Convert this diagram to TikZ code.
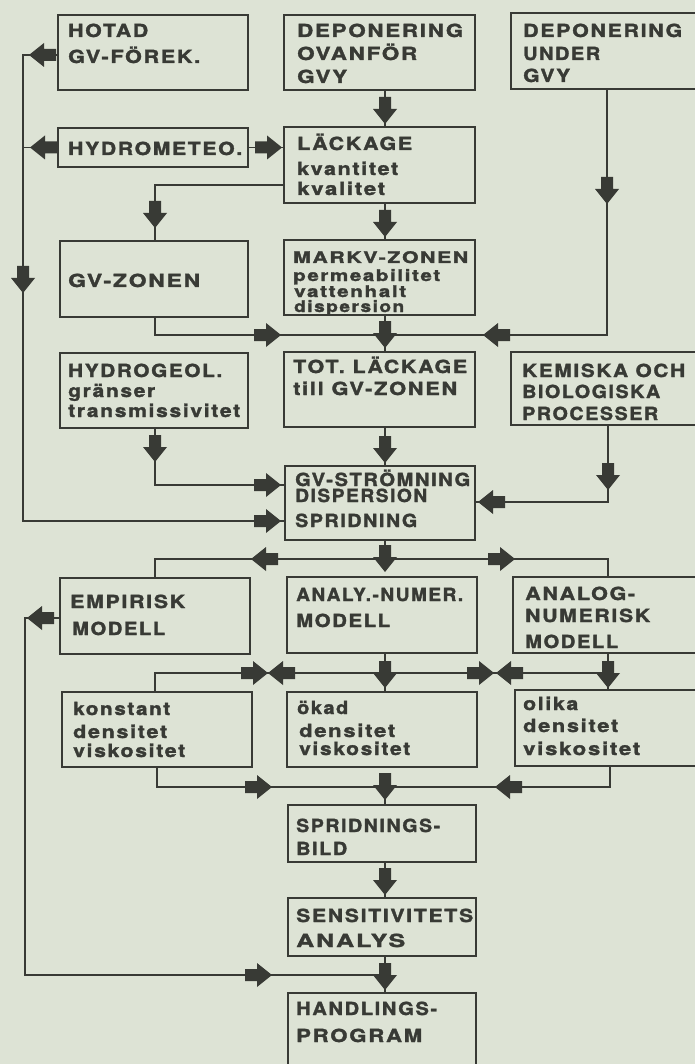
\documentclass[tikz,border=0pt]{standalone}
\usepackage{fontspec}
\setmainfont{TeX Gyre Heros}[LetterSpace=8, BoldFeatures={FakeBold=1.6}]
\usepackage{graphicx}
\definecolor{bg}{HTML}{DDE3D5}
\definecolor{ink}{HTML}{383A35}
\newcommand\bx[5]{\node[box, minimum width={#4pt-#2pt}, minimum height={#5pt-#3pt}] (#1) at ({(#2+#4)/2},{(#3+#5)/2}) {};}
\newcommand\tline[5]{\node[txt] (#1) at (#2,#3) {\resizebox{#4pt}{\height}{#5}};}
\newcommand\fa[4]{\pic[rotate=#4] (#1) at (#2,#3) {fatarrow};}
\begin{document}
\begin{tikzpicture}[x=1pt,y=-1pt,
  box/.style={draw=ink, line width=2.2pt, inner sep=0pt, rectangle},
  conn/.style={draw=ink, line width=1.7pt},
  txt/.style={anchor=base west, inner sep=0pt, text=ink, font=\fontsize{18pt}{20pt}\selectfont\bfseries},
  fatarrow/.pic={\fill[ink] (0pt,0pt) -- (-15pt,12pt) -- (-15pt,6pt) -- (-27pt,6pt) -- (-27pt,-6pt) -- (-15pt,-6pt) -- (-15pt,-12pt) -- cycle;}]
\fill[bg] (0,0) rectangle (695,1064);
\useasboundingbox (0,0) rectangle (695,1064);

% boxes
\bx{hotad}{58}{15}{248}{90}
\bx{depov}{284}{15}{475}{90}
\bx{depun}{511}{13}{705}{89}
\bx{hydro}{58}{128}{248}{167}
\bx{lack}{284}{127}{475}{203}
\bx{gvz}{60}{241}{248}{317}
\bx{markv}{284}{240}{475}{315}
\bx{hgeol}{60}{353}{248}{428}
\bx{totl}{284}{352}{475}{427}
\bx{kem}{511}{352}{705}{425}
\bx{gvs}{285}{466}{475}{540}
\bx{emp}{60}{578}{250}{654}
\bx{anum}{287}{577}{477}{653}
\bx{anlg}{513}{577}{705}{653}
\bx{kon}{62}{692}{252}{767}
\bx{okad}{287}{692}{477}{767}
\bx{olika}{515}{690}{705}{766}
\bx{sbild}{288}{805}{476}{862}
\bx{sens}{288}{898}{476}{956}
\bx{handl}{288}{993}{476}{1070}

% texts
\tline{t1a}{68}{37}{80}{HOTAD}
\tline{t1b}{68}{63}{132}{GV-FÖREK.}
\tline{t2a}{297}{37}{166}{DEPONERING}
\tline{t2b}{297}{60}{120}{OVANFÖR}
\tline{t2c}{297}{83}{50}{GVY}
\tline{t3a}{523}{37}{159}{DEPONERING}
\tline{t3b}{523}{60}{77}{UNDER}
\tline{t3c}{523}{82}{47}{GVY}
\tline{t4a}{68}{155}{174}{HYDROMETEO.}
\tline{t5a}{297}{150}{115}{LÄCKAGE}
\tline{t5b}{297}{175}{101}{kvantitet}
\tline{t5c}{297}{195}{88}{kvalitet}
\tline{t6a}{68}{287}{132}{GV-ZONEN}
\tline{t7a}{293}{263}{175}{\fontsize{16pt}{18pt}\selectfont MARKV-ZONEN}
\tline{t7b}{293}{281}{147}{\fontsize{16pt}{18pt}\selectfont permeabilitet}
\tline{t7c}{294}{297}{112}{\fontsize{16pt}{18pt}\selectfont vattenhalt}
\tline{t7d}{294}{312}{110}{\fontsize{16pt}{18pt}\selectfont dispersion}
\tline{t8a}{68}{377}{154}{HYDROGEOL.}
\tline{t8b}{68}{397}{87}{gränser}
\tline{t8c}{68}{417}{172}{transmissivitet}
\tline{t9a}{293}{373}{174}{TOT. LÄCKAGE}
\tline{t9b}{293}{395}{164}{till GV-ZONEN}
\tline{t10a}{522}{377}{163}{KEMISKA OCH}
\tline{t10b}{522}{398}{138}{BIOLOGISKA}
\tline{t10c}{522}{420}{136}{PROCESSER}
\tline{t11a}{295}{486}{175}{GV-STRÖMNING}
\tline{t11b}{295}{502}{132}{DISPERSION}
\tline{t11c}{295}{527}{122}{SPRIDNING}
\tline{t12a}{70}{608}{115}{EMPIRISK}
\tline{t12b}{72}{635}{93}{MODELL}
\tline{t13a}{296}{601}{167}{ANALY.-NUMER.}
\tline{t13b}{296}{627}{94}{MODELL}
\tline{t14a}{525}{600}{110}{ANALOG-}
\tline{t14b}{525}{622}{125}{NUMERISK}
\tline{t14c}{525}{648}{93}{MODELL}
\tline{t15a}{73}{715}{97}{konstant}
\tline{t15b}{73}{738}{94}{densitet}
\tline{t15c}{73}{757}{112}{viskositet}
\tline{t16a}{297}{714}{51}{ökad}
\tline{t16b}{299}{737}{96}{densitet}
\tline{t16c}{299}{755}{111}{viskositet}
\tline{t17a}{523}{710}{55}{olika}
\tline{t17b}{523}{732}{95}{densitet}
\tline{t17c}{523}{755}{117}{viskositet}
\tline{t18a}{296}{832}{144}{SPRIDNINGS-}
\tline{t18b}{296}{855}{51}{BILD}
\tline{t19a}{296}{922}{177}{SENSITIVITETS}
\tline{t19b}{296}{947}{109}{ANALYS}
\tline{t20a}{296}{1015}{141}{HANDLINGS-}
\tline{t20b}{296}{1042}{126}{PROGRAM}

% junction coordinates
\coordinate (L1) at (23,55);
\coordinate (L2) at (23,147.5);
\coordinate (L3) at (23,521);
\coordinate (J1) at (155,185);
\coordinate (J2) at (155,335);
\coordinate (J3) at (607,335);
\coordinate (J4) at (155,485);
\coordinate (J5) at (608,502);
\coordinate (J6) at (155,559);
\coordinate (J7) at (608,559);
\coordinate (E1) at (25,618);
\coordinate (E2) at (25,975);
\coordinate (J8) at (155,673);
\coordinate (J9) at (608,673);
\coordinate (K1) at (157,787);
\coordinate (K2) at (610,787);

% connectors
\draw[conn] (hotad.west |- L1) -- (L1) -- (L3) -- (gvs.west |- L3);
\draw[conn] (hydro.west) -- (L2);
\draw[conn] (hydro.east) -- (lack.west |- hydro.east);
\draw[conn] (depov.south -| 385,0) -- (lack.north -| 385,0);
\draw[conn] (lack.west |- J1) -- (J1) -- (gvz.north -| J1);
\draw[conn] (lack.south -| 385,0) -- (markv.north -| 385,0);
\draw[conn] (gvz.south -| J2) -- (J2) -- (J3) -- (depun.south -| J3);
\draw[conn] (markv.south -| 385,0) -- (totl.north -| 385,0);
\draw[conn] (totl.south -| 385,0) -- (gvs.north -| 385,0);
\draw[conn] (hgeol.south -| J4) -- (J4) -- (gvs.west |- J4);
\draw[conn] (kem.south -| J5) -- (J5) -- (gvs.east |- J5);
\draw[conn] (gvs.south -| 385,0) -- (385,559);
\draw[conn] (emp.north -| J6) -- (J6) -- (J7) -- (anlg.north -| J7);
\draw[conn] (emp.west |- E1) -- (E1) -- (E2) -- (385,975);
\draw[conn] (kon.north -| J8) -- (J8) -- (J9) -- (olika.north -| J9);
\draw[conn] (anum.south -| 385,0) -- (okad.north -| 385,0);
\draw[conn] (anlg.south -| J9) -- (olika.north -| J9);
\draw[conn] (kon.south -| K1) -- (K1) -- (K2) -- (olika.south -| K2);
\draw[conn] (385,787) -- (sbild.north -| 385,0);
\draw[conn] (sbild.south -| 385,0) -- (sens.north -| 385,0);
\draw[conn] (sens.south -| 385,0) -- (handl.north -| 385,0);

% block arrows
\fa{a1}{29}{55}{180}
\fa{a2}{30}{147.5}{180}
\fa{a3}{23}{293}{-90}
\fa{a4}{281}{521}{0}
\fa{a5}{282}{147.5}{0}
\fa{a6}{385}{124}{-90}
\fa{a7}{155}{228}{-90}
\fa{a8}{385}{237}{-90}
\fa{a9}{281}{335}{0}
\fa{a10}{385}{348}{-90}
\fa{a11}{483}{335}{180}
\fa{a12}{607}{204}{-90}
\fa{a13}{385}{463}{-90}
\fa{a14}{155}{462}{-90}
\fa{a15}{281}{485}{0}
\fa{a16}{608}{490}{-90}
\fa{a17}{478}{502}{180}
\fa{a18}{385}{572}{-90}
\fa{a19}{251}{559}{180}
\fa{a20}{515}{559}{0}
\fa{a21}{27}{618}{180}
\fa{a22}{272}{975}{0}
\fa{a23}{268}{673}{0}
\fa{a24}{268}{673}{180}
\fa{a25}{385}{688}{-90}
\fa{a26}{494}{673}{0}
\fa{a27}{496}{673}{180}
\fa{a28}{608}{688}{-90}
\fa{a29}{272}{787}{0}
\fa{a30}{385}{800}{-90}
\fa{a31}{495}{787}{180}
\fa{a32}{385}{895}{-90}
\fa{a33}{385}{990}{-90}
\end{tikzpicture}
\end{document}
